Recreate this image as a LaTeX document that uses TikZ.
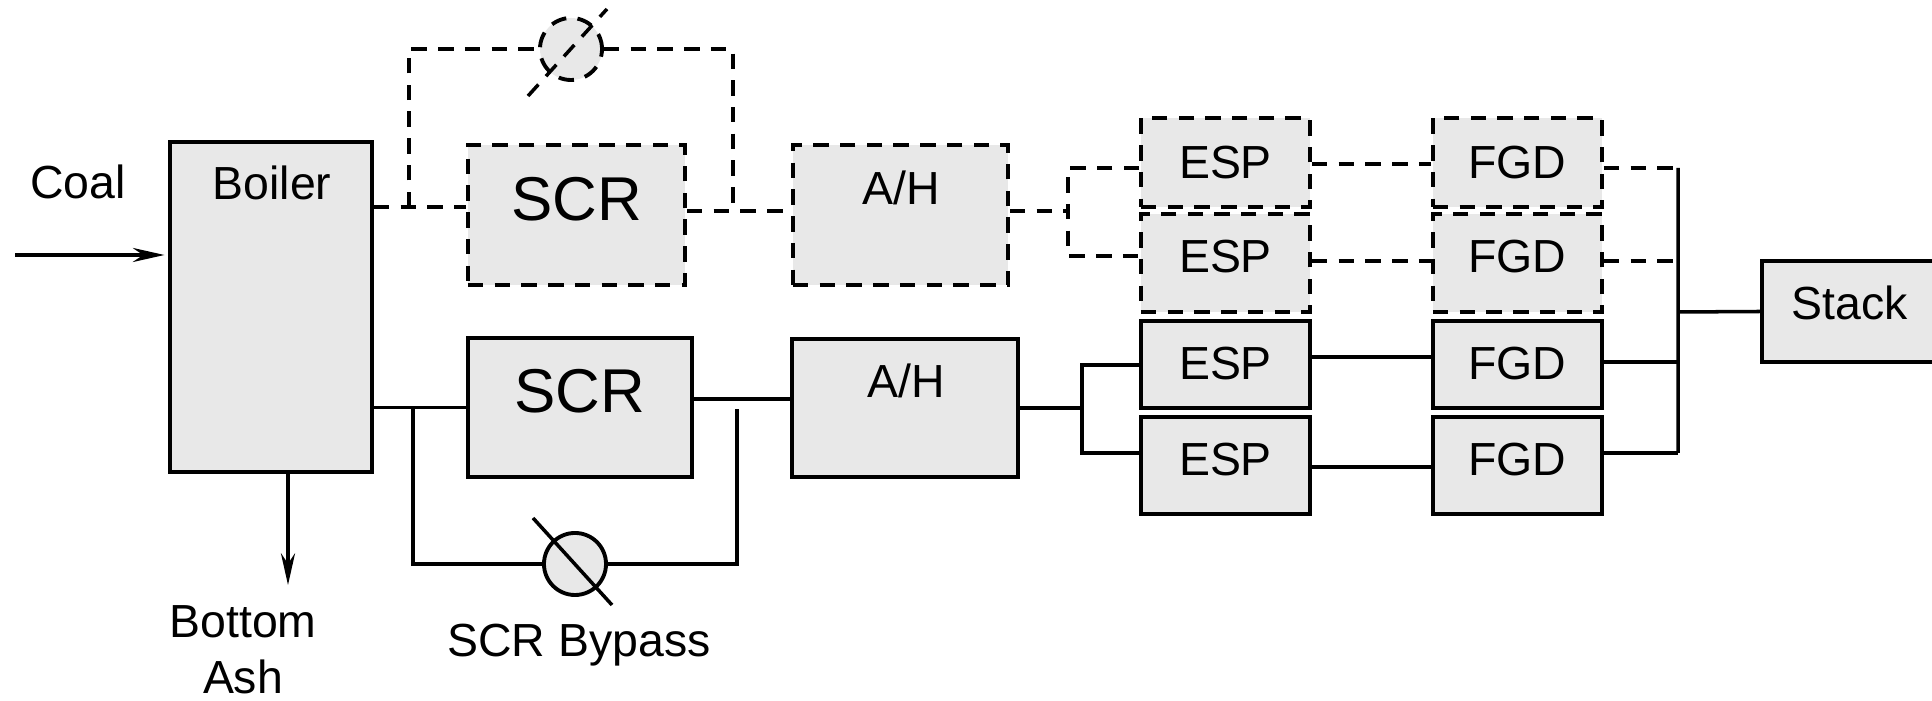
\documentclass[tikz,border=0pt]{standalone}
\usepackage{fontspec}
\setmainfont{Liberation Sans}
\usetikzlibrary{arrows.meta}
\definecolor{unitfill}{HTML}{E8E8E8}
\tikzset{
  unit/.style={draw, fill=unitfill, line width=1.1pt, inner sep=0pt, font=\fontsize{13.2}{15.8}\selectfont},
  planned/.style={dash pattern=on 4.4pt off 3.2pt},
  pipe/.style={line width=1pt},
  valve/.style={circle, draw, fill=unitfill, line width=1.1pt, minimum size=0.62cm, inner sep=0pt},
  txt/.style={inner sep=0pt, anchor=base, font=\fontsize{13.2}{15.8}\selectfont},
  big/.style={txt, font=\fontsize{17.6}{21}\selectfont},
}
\begin{document}
\begin{tikzpicture}[x=0.01cm, y=-0.01cm]
\useasboundingbox (0,0) rectangle (1932,701);
% units
\node[unit, minimum width=2.02cm, minimum height=3.3cm] (boiler) at (271,307) {};
\node[unit, planned, minimum width=2.17cm, minimum height=1.4cm] (pscr) at (576.5,215) {};
\node[unit, minimum width=2.24cm, minimum height=1.39cm] (scr) at (580,407.5) {};
\node[unit, planned, minimum width=2.15cm, minimum height=1.4cm] (pah) at (900.5,215) {};
\node[unit, minimum width=2.26cm, minimum height=1.38cm] (ah) at (905,408) {};
\foreach \n/\y/\h/\d/\s in {1/162.5/0.89/0/planned, 2/263/0.98/0.13/planned, 3/364.5/0.87/0.03/solid, 4/465.5/0.97/0.13/solid}{
    \node[unit, \s, minimum width=1.69cm, minimum height=\h cm, text depth=\d cm] (esp\n) at (1225.5,\y) {ESP};
    \node[unit, \s, minimum width=1.69cm, minimum height=\h cm, text depth=\d cm] (fgd\n) at (1517.5,\y) {FGD};
}
\node[unit, minimum width=1.76cm, minimum height=1.01cm] (stack) at (1850,311.5) {};
\node[valve, planned] (pvalve) at (571,49) {};
\node[valve] (valve) at (575,564) {};
% labels
\node[txt] (coal) at (78,198.5) {Coal};
\node[txt] (boilerlbl) at (272,200) {Boiler};
\node[txt, align=center, anchor=north] (ash) at (243,605) {Bottom\\Ash};
\node[big] (pscrlbl) at (577,220.5) {SCR};
\node[big] (scrlbl) at (580,413) {SCR};
\node[txt] (pahlbl) at (901,205) {A/H};
\node[txt] (ahlbl) at (906,398) {A/H};
\node[txt] (bypass) at (579,657) {SCR Bypass};
\node[txt] (stacklbl) at (1850,320) {Stack};
% junctions
\path (15,255) coordinate (coalin)
    (288,585) coordinate (ashout)
    (409,207) coordinate (pj1)
    (733,211) coordinate (pj2)
    (1068,211) coordinate (pj3)
    (413,407) coordinate (j1)
    (737,409) coordinate (j2)
    (1082,408) coordinate (j3)
    (1678,168) coordinate (bustop)
    (1678,453) coordinate (busbot)
    (1678,312) coordinate (bus);
\draw[pipe, -{Stealth[length=9pt, width=4pt]}, shorten >=1pt] (coalin) -- (boiler.west |- coalin);
\draw[pipe, -{Stealth[length=9pt, width=4pt]}] (boiler.south -| ashout) -- (ashout);
% planned train
\draw[pipe, planned] (boiler.east |- pj1) -- (pscr.west |- pj1)
    (pj1) |- (pvalve.west) (pvalve.east) -| (pj2)
    (pscr.east |- pj2) -- (pah.west |- pj2)
    (pah.east |- pj3) -- (pj3)
    (esp1.west |- 0,168) -| (pj3) |- (esp2.west |- 0,256);
\draw[pipe, planned] (pvalve) ++(-43,47) -- ++(79,-87);
% existing train
\draw[pipe] (boiler.east |- scr.west) -- (scr.west)
    (j1) |- (valve.west) (valve.east) -| (j2)
    (scr.east |- 0,399) -- (ah.west |- 0,399)
    (ah.east) -- (j3)
    (esp3.west |- 0,365) -| (j3) |- (esp4.west |- 0,453);
\draw[pipe] (valve) ++(-42,-46) -- ++(79,87);
\foreach \n/\a/\b/\s in {1/164/168/planned, 2/261/261/planned, 3/357/362/solid, 4/467/453/solid}{
    \draw[pipe, \s] (esp\n.east |- 0,\a) -- (fgd\n.west |- 0,\a);
    \draw[pipe, \s] (fgd\n.east |- 0,\b) -- (bus |- 0,\b);
}
\draw[pipe] (bustop) -- (busbot) (bus) -- (stack.west);
\end{tikzpicture}
\end{document}
